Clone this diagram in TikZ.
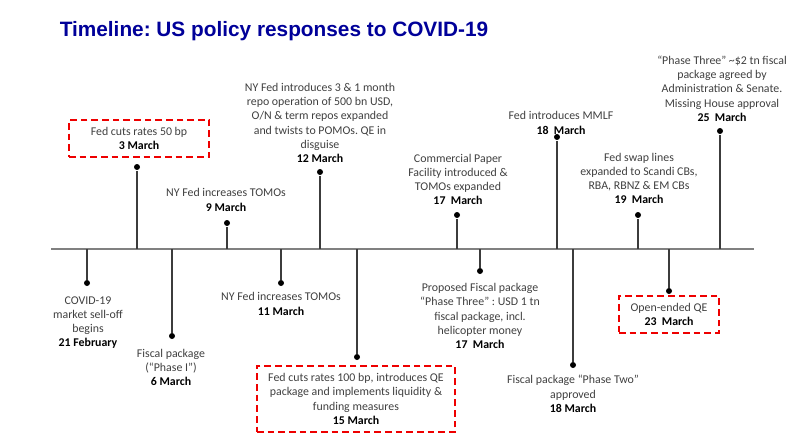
\documentclass[tikz,border=0pt]{standalone}
\usepackage{fontspec}
\setmainfont{Carlito}
\newfontfamily\titlefont{Liberation Sans}
\newcommand{\evdate}[1]{\textcolor{black}{\bfseries #1}}
\frenchspacing

\tikzset{every picture/.style={line width=0.75pt}}
\tikzset{
  evtext/.style={align=center, inner sep=0.75pt, text={rgb,255:red,64;green,64;blue,64}, font=\fontsize{8.9}{10.7}\selectfont},
  dashbox/.style={evtext, draw={rgb,255:red,238;green,0;blue,0}, line width=1.5pt, dash pattern=on 5pt off 3pt},
  stem/.style={draw={rgb,255:red,60;green,60;blue,60}, line width=1pt},
  evdot/.style={circle, fill=black, inner sep=0pt, minimum size=4.5pt},
}

\begin{document}
\begin{tikzpicture}[x=0.75pt,y=0.75pt,yscale=-1,xscale=1]
\useasboundingbox (0,0) rectangle (800,444);

% Title
\node (title) [anchor=base, inner sep=0pt, text={rgb,255:red,0;green,0;blue,153}, font=\titlefont\bfseries\fontsize{15.6}{18}\selectfont] at (274,36) {Timeline: US policy responses to COVID-19};

%Straight Lines: time axis
\coordinate (axL) at (51,249);
\coordinate (axR) at (754,249);
\draw [draw={rgb,255:red,128;green,128;blue,128}, line width=1.5pt] (axL) -- (axR);

% axis points
\coordinate (a21feb) at (87,249);
\coordinate (a3mar) at (137,249);
\coordinate (a6mar) at (172,249);
\coordinate (a9mar) at (227,249);
\coordinate (a11mar) at (281,249);
\coordinate (a12mar) at (320,249);
\coordinate (a15mar) at (357,249);
\coordinate (a17cp) at (457,249);
\coordinate (a17fp) at (480,249);
\coordinate (a18mmlf) at (557,249);
\coordinate (a18fp) at (573,249);
\coordinate (a19mar) at (638,249);
\coordinate (a23mar) at (669,249);
\coordinate (a25mar) at (720,249);

% dots
\node (d21feb) [evdot] at (87,283) {};
\node (d3mar) [evdot] at (137,167) {};
\node (d6mar) [evdot] at (172,336) {};
\node (d9mar) [evdot] at (227,223) {};
\node (d11mar) [evdot] at (281,283) {};
\node (d12mar) [evdot] at (320,172) {};
\node (d15mar) [evdot] at (357,357) {};
\node (d17cp) [evdot] at (457,215) {};
\node (d17fp) [evdot] at (480,271) {};
\node (d18mmlf) [evdot] at (557,137) {};
\node (d18fp) [evdot] at (573,365) {};
\node (d19mar) [evdot] at (638,215) {};
\node (d23mar) [evdot] at (669,291) {};
\node (d25mar) [evdot] at (720,131) {};

%Straight Lines: stems
\draw [stem] (a21feb) -- (d21feb);
\draw [stem] (a3mar) -- (d3mar);
\draw [stem] (a6mar) -- (d6mar);
\draw [stem] (a9mar) -- (d9mar);
\draw [stem] (a11mar) -- (d11mar);
\draw [stem] (a12mar) -- (d12mar);
\draw [stem] (a15mar) -- (d15mar);
\draw [stem] (a17cp) -- (d17cp);
\draw [stem] (a17fp) -- (d17fp);
\draw [stem] (a18mmlf) -- (d18mmlf);
\draw [stem] (a18fp) -- (d18fp);
\draw [stem] (a19mar) -- (d19mar);
\draw [stem] (a23mar) -- (d23mar);
\draw [stem] (a25mar) -- (d25mar);

% Text Node
\node (t21feb) [evtext] at (88,322.5) {COVID-19\\market sell-off\\begins\\\evdate{21 February}};
% Text Node
\node (t3mar) [dashbox, minimum width=105pt, minimum height=27.75pt] at (139,138.5) {Fed cuts rates 50 bp\\\evdate{3 March}};
% Text Node
\node (t6mar) [evtext] at (171,367.5) {Fiscal package\\(“Phase I”)\\\evdate{6 March}};
% Text Node
\node (t9mar) [evtext] at (226,200) {NY Fed increases TOMOs\\\evdate{9 March}};
% Text Node
\node (t11mar) [evtext] at (281,304) {NY Fed increases TOMOs\\\evdate{11 March}};
% Text Node
\node (t12mar) [evtext] at (320,123) {NY Fed introduces 3 \& 1 month\\repo operation of 500 bn USD,\\O/N \& term repos expanded\\and twists to POMOs. QE in\\disguise\\\evdate{12 March}};
% Text Node
\node (t15mar) [dashbox, minimum width=148.5pt, minimum height=49.5pt] at (356,399) {Fed cuts rates 100 bp, introduces QE\\package and implements liquidity \&\\funding measures\\\evdate{15 March}};
% Text Node
\node (t17cp) [evtext] at (458,179.5) {Commercial Paper\\Facility introduced \&\\TOMOs expanded\\\evdate{17~~March}};
% Text Node
\node (t17fp) [evtext] at (480,316) {Proposed Fiscal package\\“Phase Three” : USD 1 tn\\fiscal package, incl.\\helicopter money\\\evdate{17~~March}};
% Text Node
\node (t18mmlf) [evtext] at (561,123) {Fed introduces MMLF\\\evdate{18~~March}};
% Text Node
\node (t18fp) [evtext] at (573,394) {Fiscal package “Phase Two”\\approved\\\evdate{18 March}};
% Text Node
\node (t19mar) [evtext] at (639,178.5) {Fed swap lines\\expanded to Scandi CBs,\\RBA, RBNZ \& EM CBs\\\evdate{19~~March}};
% Text Node
\node (t23mar) [dashbox, minimum width=75pt, minimum height=27.75pt] at (669,314.5) {Open-ended QE\\\evdate{23~~March}};
% Text Node
\node (t25mar) [evtext] at (722,88.5) {“Phase Three” \textasciitilde\$2 tn fiscal\\package agreed by\\Administration \& Senate.\\Missing House approval\\\evdate{25~~March}};

\end{tikzpicture}
\end{document}
